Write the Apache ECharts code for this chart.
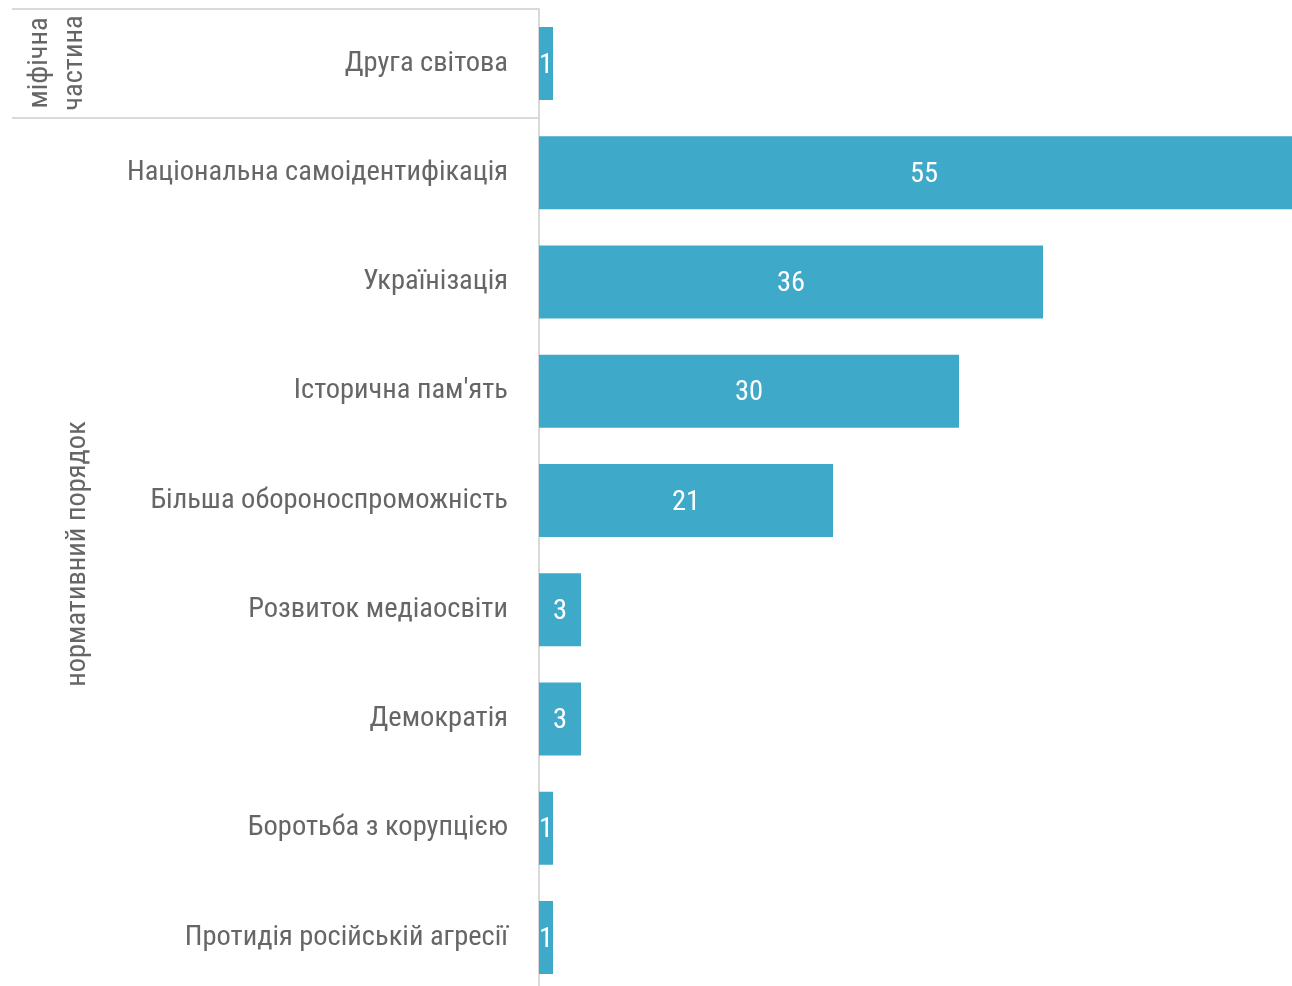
<!DOCTYPE html>
<html>
<head>
<meta charset="utf-8">
<script src="https://cdn.jsdelivr.net/npm/echarts@6/dist/echarts.min.js"></script>
<style>
  html, body { margin: 0; padding: 0; background: #fff; overflow: hidden; }
  /* полотно трохи більше за вікно: смуга "55" і нижній ряд обрізані краєм */
  #chart { width: 1309px; height: 992px; }
</style>
</head>
<body>
<div id="chart"></div>
<script>
  // категорії зверху вниз
  var categories = [
    'Друга світова',
    'Національна самоідентифікація',
    'Українізація',
    'Історична пам\'ять',
    'Більша обороноспроможність',
    'Розвиток медіаосвіти',
    'Демократія',
    'Боротьба з корупцією',
    'Протидія російській агресії'
  ];
  var values = [1, 55, 36, 30, 21, 3, 3, 1, 1];
  var groupLabels = ['міфічна\nчастина', 'нормативний порядок'];

  var FONT = '"Roboto Condensed", "Liberation Sans Narrow", "DejaVu Sans Condensed", Roboto, sans-serif';
  var chart = echarts.init(document.getElementById('chart'));

  var option = {
    animation: false,
    grid: { left: 539, right: 0, top: 9, bottom: 0, containLabel: false },
    xAxis: {
      type: 'value',
      min: 0,
      max: 55,
      show: false
    },
    yAxis: {
      type: 'category',
      inverse: true,
      data: categories,
      axisLine: { show: true, lineStyle: { color: '#d9d9d9', width: 2 } },
      axisTick: { show: false },
      axisLabel: {
        margin: 31,
        color: '#666666',
        fontSize: 28.5,
        fontFamily: FONT,
        padding: [4, 0, 0, 0]
      }
    },
    series: [{
      type: 'bar',
      data: values,
      barWidth: 73,
      itemStyle: { color: '#3ea9c9' },
      label: {
        show: true,
        position: 'inside',
        offset: [0, 2],
        color: '#ffffff',
        fontSize: 28.5,
        fontFamily: FONT
      }
    }],
    graphic: [
      // рамка групи "міфічна частина"
      { type: 'line', shape: { x1: 12, y1: 9, x2: 538, y2: 9 }, style: { stroke: '#d9d9d9', lineWidth: 2 } },
      { type: 'line', shape: { x1: 12, y1: 118, x2: 538, y2: 118 }, style: { stroke: '#d9d9d9', lineWidth: 2 } },
      {
        type: 'text', x: 57, y: 63, rotation: Math.PI / 2,
        style: { text: groupLabels[0], fill: '#666666', font: '28.5px ' + FONT, align: 'center', verticalAlign: 'middle', lineHeight: 35 }
      },
      {
        type: 'text', x: 78, y: 554, rotation: Math.PI / 2,
        style: { text: groupLabels[1], fill: '#666666', font: '28.5px ' + FONT, align: 'center', verticalAlign: 'middle' }
      }
    ]
  };
  chart.setOption(option);
</script>
</body>
</html>
